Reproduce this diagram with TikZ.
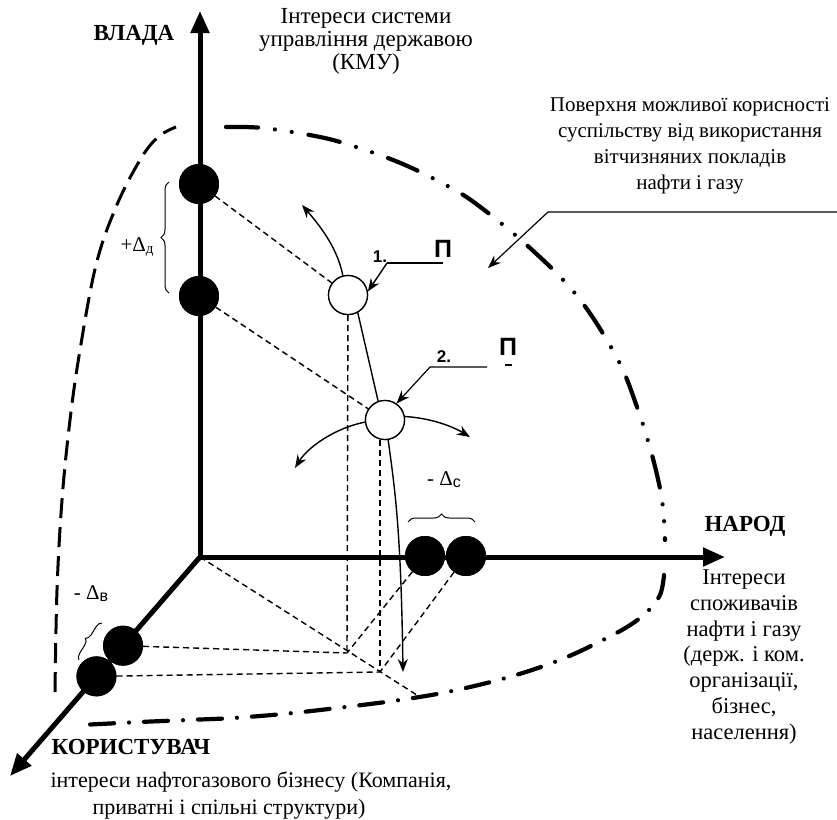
\documentclass[tikz,border=0pt]{standalone}
\usepackage{fontspec}
\setmainfont{Liberation Serif}
\newfontfamily\sansf{Liberation Sans}
\usetikzlibrary{arrows.meta,decorations.pathreplacing,calc}
\begin{document}
\begin{tikzpicture}[x=1pt,y=-1pt,
  axisline/.style={line width=5pt,-{Triangle[length=22pt,width=18pt]}},
  bigdot/.style={circle,fill=black,inner sep=0pt,minimum size=40pt},
  opencirc/.style={circle,draw=black,line width=1.3pt,fill=white,inner sep=0pt,minimum size=39pt},
  proj/.style={line width=1.4pt,dash pattern=on 6pt off 4pt},
  flow/.style={line width=1.4pt},
  flowarrow/.style={line width=1.4pt,-{Stealth[length=13pt,width=10pt]}},
  leader/.style={line width=1.2pt},
  surfleft/.style={line width=3pt,dash pattern=on 20pt off 9pt},
  surfdd/.style={line width=4.2pt,line cap=round,dash pattern=on 32pt off 17pt on 0.01pt off 17pt on 0.01pt off 17pt},
  surfd/.style={line width=4.2pt,line cap=round,dash pattern=on 24pt off 15pt on 0.01pt off 15pt},
  bracestyle/.style={line width=1pt,decorate},
  bigbold/.style={font={\fontsize{23}{25}\selectfont\bfseries}},
  plaintext/.style={font={\fontsize{21}{26}\selectfont},align=center},
  pletter/.style={font={\sansf\fontsize{25}{25}\selectfont\bfseries},inner sep=0pt},
  numlab/.style={font={\sansf\fontsize{17}{17}\selectfont\bfseries},inner sep=0pt},
  deltalab/.style={font={\fontsize{21}{21}\selectfont},inner sep=0pt}
]
\useasboundingbox (0,0) rectangle (837,819);

% key points
\coordinate (O) at (200,557);
\coordinate (Vt) at (200,11);
\coordinate (Ht) at (725,557);
\coordinate (Dt) at (10,776);
\coordinate (p1) at (347,653);
\coordinate (p2) at (380,672);
\coordinate (e) at (420,697);

% surface of possible utility
\draw[surfleft] plot[smooth,tension=0.6] coordinates {(55,692) (57,590) (62,500) (70,420) (80,350) (96,265) (116,207) (140,160) (158,137) (176,127)};
\draw[surfdd] plot[smooth,tension=0.6] coordinates {(226,127) (263,128) (315,136) (350,145) (398,162) (440,182) (475,203) (530,248) (578,297) (617,358) (637,407) (652,455) (662,500) (665,540)};
\draw[surfd] plot[smooth,tension=0.6] coordinates {(664,575) (660,595) (647,612) (627,627) (597,643) (567,657) (535,669) (502,679) (470,687) (437,694) (400,700) (370,704) (320,710) (283,714) (233,718) (187,720) (140,722) (80,725)};

% nodes
\node[bigdot] (v1) at (199,184) {};
\node[bigdot] (v2) at (199,296) {};
\node[bigdot] (h1) at (425,556) {};
\node[bigdot] (h2) at (466,556) {};
\node[bigdot] (d1) at ($(O)!0.405!(Dt)$) {};
\node[bigdot] (d2) at ($(O)!0.545!(Dt)$) {};
\node[opencirc] (c1) at (348,295) {};
\node[opencirc] (c2) at (385,420) {};

% projection lines
\draw[proj] (v1) -- (c1);
\draw[proj] (v2) -- (c2);
\draw[proj] (c1.center) -- (p1);
\draw[proj] (p2 |- c2.center) -- (p2);
\draw[proj] (d1) -- (p1);
\draw[proj] (d2) -- (p2);
\draw[proj] (h1) -- (p1);
\draw[proj] (h2) -- (p2);
\draw[proj] (O) -- (e);

% axes
\draw[axisline] (O) -- (Vt);
\draw[axisline] (O) -- (Ht);
\draw[axisline] (O) -- (Dt);

% dots and circles on top
\node[bigdot] at (v1) {};
\node[bigdot] at (v2) {};
\node[bigdot] at (h1) {};
\node[bigdot] at (h2) {};
\node[bigdot] at (d1) {};
\node[bigdot] at (d2) {};
\node[opencirc] at (c1) {};
\node[opencirc] at (c2) {};

% movement curves
\draw[flowarrow] (c1.105) .. controls (338,250) and (322,228) .. (302,205);
\draw[flow] (c1.-61) -- (c2.110);
\draw[flowarrow] (c2.-81) .. controls (395,490) and (401,530) .. (403,672);
\draw[flowarrow] (c2.186) .. controls (335,428) and (308,447) .. (295,468);
\draw[flowarrow] (c2.10) .. controls (430,418) and (452,426) .. (470,437);

% labels 1 and 2
\node[numlab] (n1) at (380,257) {1.};
\node[pletter] (P1) at (443,249) {П};
\coordinate (l1a) at (387,263);
\coordinate (l1b) at (443,263);
\draw[leader] (l1a) -- (l1b);
\draw[flowarrow] (l1a) -- (c1.10);

\node[numlab] (n2) at (444,357) {2.};
\node[pletter] (P2) at (508,347) {П};
\draw[line width=2pt] ($(P2.south)+(-3.5,9)$) -- ++(7,0);
\coordinate (l2a) at (487,367);
\coordinate (l2b) at (430,367);
\draw[leader,-{Stealth[length=13pt,width=10pt]}] (l2a) -- (l2b) -- (c2.55);

% surface label and leader
\node[plaintext] (surf) at (690,146) {Поверхня можливої корисності\\суспільству від використання\\вітчизняних покладів\\нафти і газу};
\coordinate (sa) at (837,212);
\coordinate (sb) at (548,212);
\coordinate (sc) at (488,268);
\draw[leader,-{Stealth[length=13pt,width=10pt]}] (sa) -- (sb) -- (sc);

% axis labels
\node[bigbold] (vlada) at (134,35) {ВЛАДА};
\node[font={\fontsize{23}{23}\selectfont},align=center] (vtext) at (366,41) {Інтереси системи\\управління державою\\(КМУ)};
\node[bigbold] (narod) at (745,526) {НАРОД};
\node[font={\fontsize{22.5}{25.8}\selectfont},align=center] (ntext) at (744,657) {Інтереси\\споживачів\\нафти і газу\\(держ. і ком.\\організації,\\бізнес,\\населення)};
\node[bigbold] (kor) at (131,747) {КОРИСТУВАЧ};
\node[font={\fontsize{22}{26}\selectfont}] (ktext1) at (251,782) {інтереси нафтогазового бізнесу (Компанія,};
\node[font={\fontsize{22}{26}\selectfont}] (ktext2) at (229,809) {приватні і спільні структури)};

% braces and deltas
\draw[bracestyle,decoration={brace,amplitude=8pt}] (169,293) -- (169,182);
\node[deltalab] (dd) at (137,247) {+Δ\raisebox{-2pt}{\fontsize{15}{15}\selectfont д}};
\draw[bracestyle,decoration={brace,amplitude=8pt}] (408,522) -- (475,522);
\node[deltalab] (dc) at (444,480) {- Δ\raisebox{-2pt}{\sansf\fontsize{16}{16}\selectfont с}};
\draw[bracestyle,decoration={brace,amplitude=6pt}] (79,660) -- (102,623);
\node[deltalab] (db) at (91,594) {- Δ\raisebox{-2pt}{\sansf\fontsize{16}{16}\selectfont в}};
\end{tikzpicture}
\end{document}
